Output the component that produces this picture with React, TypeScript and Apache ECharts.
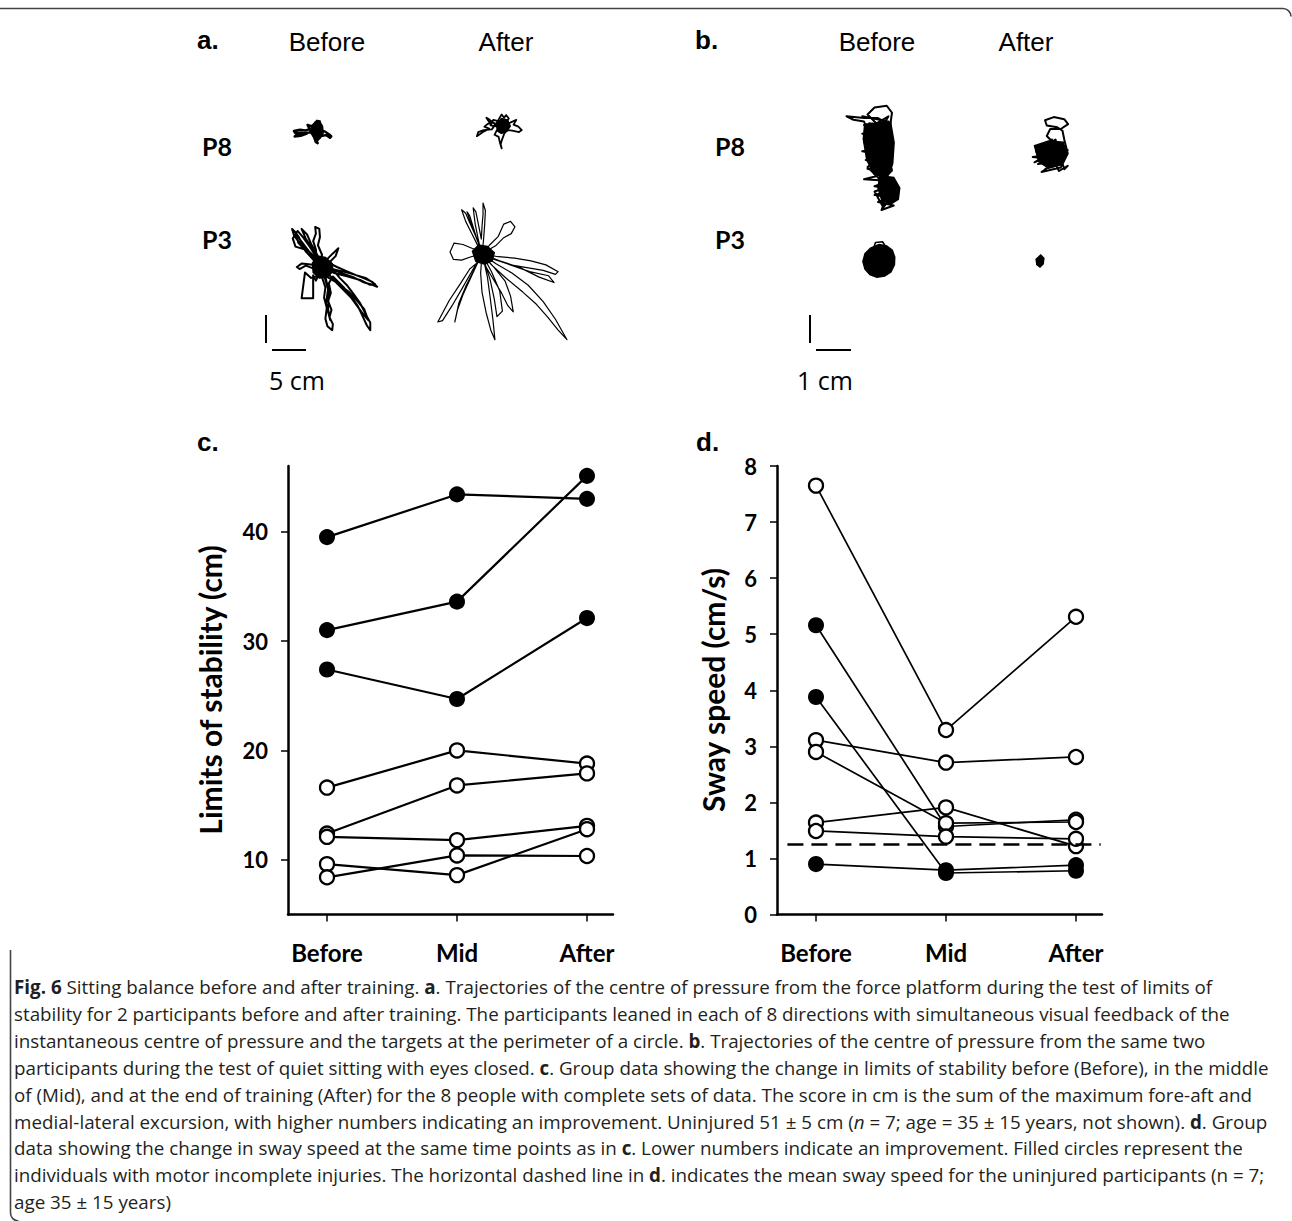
import React, { useEffect, useRef } from "react";
import * as echarts from "echarts";

// ---------- data ----------
const timePoints = ["Before", "Mid", "After"];
const timeIndex = [0, 1, 2];

// Panel c: limits of stability (cm), one row per participant
const losValues = [
  [39.5, 43.4, 43.0],
  [31.0, 33.6, 45.1],
  [27.4, 24.7, 32.1],
  [16.6, 20.0, 18.8],
  [12.4, 16.8, 17.9],
  [12.1, 11.8, 13.1],
  [9.6, 8.6, 12.8],
  [8.4, 10.4, 10.35],
];
const losFilled = [
  [true, true, true],
  [true, true, true],
  [true, true, true],
  [false, false, false],
  [false, false, false],
  [false, false, false],
  [false, false, false],
  [false, false, false],
];
const losTicks = [10, 20, 30, 40];

// Panel d: sway speed (cm/s)
const swayValues = [
  [5.16, 1.57, 1.69],
  [3.88, 0.74, 0.78],
  [0.9, 0.79, 0.88],
  [7.65, 3.29, 5.31],
  [3.11, 2.71, 2.81],
  [2.9, 1.63, 1.65],
  [1.64, 1.91, 1.22],
  [1.49, 1.39, 1.35],
];
const swayFilled = [
  [true, false, false],
  [true, true, true],
  [true, true, true],
  [false, false, false],
  [false, false, false],
  [false, false, false],
  [false, false, false],
  [false, false, false],
];
const swayTicks = [0, 1, 2, 3, 4, 5, 6, 7, 8];
const uninjuredSway = 1.26;

// Centre-of-pressure trajectories (cm, relative to each trace's centre, y up)
const losP8Before = [
  [0, 0], [-0.6, 0.3], [-1.4, 0.1], [-2.2, 0.2], [-3.1, 0.0], [-2.9, -0.3], [-2.0, -0.2], [-1.2, -0.4], [-2.1, -0.7], [-3.0, -0.8], [-2.6, -0.5], [-1.5, -0.3], [-0.6, -0.2],
  [-0.9, 0.5], [-1.1, 0.9], [-0.5, 0.7], [-0.1, 1.0], [0.3, 1.5], [0.7, 1.4], [0.5, 0.9], [0.9, 0.6], [0.2, 0.2],
  [0.9, 0.1], [1.5, -0.1], [2.1, -0.5], [2.4, -0.8], [2.2, -1.0], [1.6, -0.6], [1.1, -0.7], [0.6, -0.4],
  [0.5, -0.9], [0.2, -1.3], [0.4, -1.8], [0.1, -1.6], [-0.1, -1.0], [-0.3, -0.5], [0.3, -0.3], [0.6, 0.3], [-0.4, 0.4], [0.1, -0.2],
  [0.7, 0.9], [0.2, 1.2], [-0.3, 0.6], [0.4, -0.6], [-0.2, -0.2], [0, 0],
];
const losP8BeforeCore = [[-0.5, 0.6], [0.0, 1.3], [0.7, 1.4], [1.1, 0.7], [1.2, -0.3], [0.8, -1.0], [0.3, -1.5], [-0.2, -0.9], [-0.6, -0.3]];
const losP8After = [
  [0, 0], [-0.8, 0.6], [-1.5, 1.2], [-2.0, 1.5], [-1.6, 0.9], [-0.9, 0.8], [-1.8, 0.6], [-2.3, 0.2], [-1.6, -0.1], [-2.5, -0.6], [-3.4, -1.2], [-3.2, -0.6], [-2.4, -0.3], [-1.2, -0.2],
  [-0.4, 0.9], [0.0, 1.6], [0.25, 2.0], [0.6, 1.5], [0.9, 1.9], [1.3, 1.4], [0.7, 0.6],
  [1.5, 0.8], [2.4, 1.2], [2.0, 0.5], [2.7, 0.2], [3.2, -0.3], [2.8, -0.6], [1.8, -0.4], [1.0, -0.3],
  [0.6, -0.9], [0.3, -1.7], [0.1, -2.4], [0.25, -3.0], [0.0, -2.2], [-0.2, -1.3], [-0.8, -1.0], [-0.5, -0.4], [0.4, 0.3], [-0.3, 0.2],
  [-1.4, 0.4], [-1.0, 1.2], [0.2, 0.9], [1.4, 0.2], [0.6, -0.5], [0, 0],
];
const losP8AfterCore = [[-0.5, 0.5], [0.2, 1.4], [1.1, 1.2], [1.5, 0.3], [1.0, -0.5], [0.2, -0.8], [-0.4, -0.4]];
const losP3Before = [
  [0, 0], [-1.2, 1.0], [-2.3, 2.2], [-3.2, 3.4], [-4.1, 4.6], [-4.4, 5.6], [-3.8, 5.0], [-3.5, 3.6], [-2.6, 2.6], [-3.9, 3.0], [-4.3, 4.2], [-3.6, 5.3], [-2.8, 4.4], [-1.8, 3.0], [-0.8, 1.4],
  [-0.9, 2.6], [-1.3, 3.8], [-0.9, 4.9], [-1.0, 5.9], [-0.4, 5.6], [-0.3, 4.4], [-0.6, 3.2], [0.0, 1.8], [-0.2, 0.6],
  [0.8, 1.2], [1.6, 2.0], [2.4, 2.75], [2.0, 1.6], [1.0, 0.6],
  [2.2, 0.0], [3.6, -0.6], [5.0, -1.2], [6.3, -1.7], [7.4, -2.2], [8.1, -2.9], [7.3, -2.6], [6.0, -2.2], [4.6, -1.5], [3.1, -1.0], [1.6, -0.4],
  [2.6, -1.6], [3.6, -2.6], [4.6, -3.9], [5.6, -5.3], [6.4, -6.9], [7.1, -8.2], [7.1, -9.3], [6.6, -8.6], [6.0, -7.3], [5.3, -5.8], [4.4, -4.5], [3.2, -3.0], [1.6, -1.4],
  [1.0, -2.4], [1.3, -3.8], [0.9, -5.0], [1.4, -6.3], [1.1, -7.4], [1.6, -8.4], [1.5, -9.3], [0.8, -8.7], [0.5, -7.6], [0.7, -6.0], [0.3, -4.5], [0.5, -3.0], [0.0, -1.5],
  [-0.8, -1.4], [-1.6, -1.6], [-2.5, -0.8], [-3.0, -4.6], [-1.3, -4.6], [-1.3, -1.2], [-0.9, -2.0], [-0.3, -0.8],
  [-1.3, -0.2], [-2.4, 0.2], [-3.3, -0.3], [-3.7, 0.0], [-3.0, 0.5], [-2.0, 0.4], [-1.0, 0.3], [0, 0],
  [-0.5, 0.8], [-1.5, 1.9], [-2.8, 3.0], [-3.4, 4.4], [-4.0, 5.2], [-3.2, 4.0], [-2.0, 2.4], [-0.6, 0.4],
  [1.8, -0.9], [3.8, -1.4], [5.6, -1.9], [7.0, -2.6], [7.8, -2.5], [6.4, -1.6], [4.0, -0.9], [1.2, -0.2], [0, 0],
  [-0.7, 1.8], [-1.6, 3.4], [-2.2, 4.8], [-3.0, 5.6], [-2.4, 4.2], [-1.2, 2.4], [0.4, -1.0], [0.9, -3.2], [0.6, -5.4], [1.2, -7.8], [0.9, -6.2], [1.0, -3.6], [0.3, -1.2],
  [2.0, -2.2], [3.9, -3.6], [5.2, -5.0], [6.2, -6.2], [6.8, -7.8], [5.8, -6.6], [4.2, -4.4], [2.2, -2.4], [0, 0],
];
const losP3BeforeCore = [[-1.4, 0.6], [-0.6, 1.6], [0.5, 1.4], [1.5, 0.5], [1.6, -0.6], [0.8, -1.5], [-0.4, -1.6], [-1.3, -0.8]];
const losP3After = [
  [0, 0],
  [-0.8, 1.6], [-1.6, 3.2], [-2.4, 4.8], [-3.0, 6.5], [-2.4, 6.0], [-1.8, 4.6], [-1.0, 2.8], [-0.3, 1.0],
  [-0.6, 2.4], [-1.0, 4.4], [-1.3, 6.8], [-0.9, 6.2], [-0.5, 4.2], [-0.1, 2.2],
  [0.0, 4.0], [0.15, 5.8], [0.15, 7.5], [0.5, 6.4], [0.4, 4.4], [0.2, 1.8], [0, 0],
  [1.2, 1.4], [2.4, 2.6], [3.2, 4.4], [4.2, 4.8], [4.85, 4.0], [4.3, 3.0], [3.2, 2.4], [2.0, 1.2], [0.6, 0.4],
  [-1.4, 0.8], [-2.8, 1.4], [-4.1, 1.6], [-4.7, 0.3], [-4.2, -0.8], [-3.0, -0.9], [-1.6, -0.4], [0, 0],
  [2.4, -0.4], [4.8, -0.6], [7.2, -1.0], [9.4, -1.6], [11.2, -2.6], [10.8, -3.0], [9.0, -2.4], [6.6, -2.0], [4.2, -1.6], [1.8, -0.8], [0, 0],
  [2.0, -1.4], [4.4, -2.8], [6.8, -4.6], [9.0, -7.0], [10.8, -9.6], [12.5, -12.6], [11.2, -11.2], [9.6, -9.2], [8.0, -7.4], [6.0, -5.6], [3.6, -3.6], [1.4, -1.6], [0, 0],
  [1.8, -2.0], [3.4, -4.0], [4.2, -6.2], [4.6, -8.5], [3.8, -7.6], [2.8, -5.6], [1.6, -3.6], [0.4, -1.6],
  [0.8, -3.4], [1.2, -6.4], [1.6, -9.6], [1.9, -12.6], [1.3, -11.2], [0.6, -8.6], [0.0, -5.6], [-0.2, -2.8], [0, 0],
  [-1.2, -2.4], [-2.4, -4.8], [-3.4, -7.2], [-4.0, -10.0], [-3.6, -8.2], [-2.8, -6.0], [-1.6, -3.4], [-0.6, -1.2],
  [-1.8, -2.2], [-3.2, -4.4], [-4.8, -6.8], [-6.5, -10.0], [-5.8, -9.8], [-4.4, -7.6], [-3.0, -5.2], [-1.4, -2.4], [0, 0],
  [1.0, 0.6], [-0.6, 0.9], [0.8, -0.7], [-0.9, -0.4], [0.4, 0.3], [0, 0],
  [2.6, -1.0], [5.6, -2.0], [8.4, -3.4], [10.6, -4.2], [9.8, -3.2], [7.0, -2.6], [3.6, -1.4], [0, 0],
  [1.4, -2.6], [2.6, -5.4], [3.0, -8.4], [2.2, -9.2], [1.8, -6.6], [1.2, -3.8], [0, 0],
  [-1.0, 3.0], [-1.8, 5.6], [-2.2, 6.2], [-1.6, 4.4], [-0.4, 1.4], [0, 0],
];
const losP3AfterCore = [[-1.4, 0.4], [-0.5, 1.3], [0.8, 1.1], [1.8, 0.2], [1.5, -1.0], [0.4, -1.5], [-0.9, -1.1]];
const swayP8Before = [
  [-0.45, 1.25], [0.3, 1.1], [-0.4, 1.0], [0.35, 0.85], [-0.45, 0.75], [0.4, 0.6], [-0.4, 0.5], [0.3, 0.35], [-0.45, 0.25], [0.35, 0.1], [-0.35, 0.0], [0.4, -0.15], [-0.3, -0.25], [0.2, -0.4], [-0.4, -0.55], [0.35, -0.6], [-0.1, -0.75], [0.5, -0.85], [-0.1, -1.0], [0.55, -1.05], [0.0, -1.2], [0.45, -1.3], [0.1, -1.43], [0.3, -0.9],
  [0.0, -0.5], [-0.2, 0.3], [0.1, 0.9], [-0.3, 1.3], [-0.1, 1.5], [0.25, 1.55], [0.4, 1.35], [0.35, 1.0], [0.0, 1.2], [-0.4, 1.2], [-0.9, 1.25], [-0.7, 1.15], [-0.4, 1.1],
  [-0.2, 0.6], [0.2, 0.2], [-0.3, -0.2], [0.1, -0.6], [0.4, -0.3], [0.2, 0.5], [-0.3, 0.9], [0.3, 1.25], [-0.2, 0.4], [0.4, 0.7], [0.0, -0.1], [0.45, -1.0], [0.15, -1.35],
  [-0.1, -0.9], [0.5, -0.7], [0.05, -0.3], [-0.35, 0.6], [0.3, 0.95], [-0.25, 1.05],
];
const swayP8BeforeCoreUpper = [[-0.38, 1.02], [0.36, 1.08], [0.46, 0.5], [0.42, -0.1], [0.28, -0.45], [-0.1, -0.42], [-0.32, 0.0], [-0.42, 0.6]];
const swayP8BeforeCoreLower = [[0.05, -0.45], [0.45, -0.5], [0.62, -0.8], [0.58, -1.12], [0.35, -1.27], [0.1, -1.12], [0.0, -0.8]];
const swayP8After = [
  [0.0, 0.3], [-0.35, 0.0], [0.2, -0.1], [-0.55, -0.2], [0.3, -0.3], [-0.4, -0.4], [0.4, -0.2], [-0.2, -0.55], [0.1, -0.35], [-0.3, -0.63], [0.25, -0.5], [0.45, -0.1], [0.35, 0.3], [0.3, 0.55], [0.15, 0.65], [-0.15, 0.7], [-0.2, 0.85], [0.05, 0.94], [0.35, 0.88], [0.46, 0.74], [0.25, 0.6], [-0.05, 0.6], [-0.15, 0.4], [0.1, 0.15], [-0.45, -0.05], [0.15, -0.45], [0.45, 0.0], [0.05, -0.2], [-0.25, 0.1], [0.1, 0.3], [0.35, -0.55], [0.45, -0.45], [0.2, -0.6], [-0.05, -0.15],
  [-0.5, -0.35], [0.0, -0.05], [0.3, 0.1], [-0.2, -0.3],
];
const swayP8AfterCore = [[-0.5, 0.12], [-0.1, 0.26], [0.32, 0.22], [0.42, -0.1], [0.28, -0.42], [-0.1, -0.52], [-0.38, -0.33]];
const swayP3BeforeOutline = [
  [0.0, 0.44], [0.22, 0.4], [0.38, 0.28], [0.45, 0.08], [0.44, -0.14], [0.34, -0.34], [0.16, -0.46], [-0.06, -0.49], [-0.26, -0.42], [-0.4, -0.26], [-0.46, -0.04], [-0.4, 0.18], [-0.24, 0.34],
];
const swayP3BeforeLoop = [[-0.14, 0.38], [-0.1, 0.5], [0.1, 0.52], [0.18, 0.4]];
const swayP3AfterOutline = [[0.02, 0.17], [0.11, 0.08], [0.09, -0.08], [0.0, -0.17], [-0.09, -0.1], [-0.11, 0.05]];

const captionLines = [
  "{b|Fig. 6} Sitting balance before and after training. {b|a}. Trajectories of the centre of pressure from the force platform during the test of limits of",
  "stability for 2 participants before and after training. The participants leaned in each of 8 directions with simultaneous visual feedback of the",
  "instantaneous centre of pressure and the targets at the perimeter of a circle. {b|b}. Trajectories of the centre of pressure from the same two",
  "participants during the test of quiet sitting with eyes closed. {b|c}. Group data showing the change in limits of stability before (Before), in the middle",
  "of (Mid), and at the end of training (After) for the 8 people with complete sets of data. The score in cm is the sum of the maximum fore-aft and",
  "medial-lateral excursion, with higher numbers indicating an improvement. Uninjured 51 ± 5 cm ({i|n} = 7; age = 35 ± 15 years, not shown). {b|d}. Group",
  "data showing the change in sway speed at the same time points as in {b|c}. Lower numbers indicate an improvement. Filled circles represent the",
  "individuals with motor incomplete injuries. The horizontal dashed line in {b|d}. indicates the mean sway speed for the uninjured participants (n = 7;",
  "age 35 ± 15 years)",
];

// ---------- helpers ----------
function textWidth(text: string, font: string): number {
  const c = document.createElement("canvas");
  const ctx = c.getContext("2d");
  if (!ctx) return text.length * 9;
  ctx.font = font;
  return ctx.measureText(text).width;
}
const plain = (s: string) => s.replace(/\{[a-z]\|([^}]*)\}/g, "$1");

function buildOption() {
  const capFamily = "Open Sans";
  const capBase = 19;
  const capSize = Math.min(21, Math.max(15, (capBase * 1196) / textWidth(plain(captionLines[0]), `${capBase}px "${capFamily}"`)));

  const titleFont = "Lato";
  const t1 = (26 * 293) / textWidth("Limits of stability (cm)", `bold 26px ${titleFont}`);
  const t2 = (26 * 246) / textWidth("Sway speed (cm/s)", `bold 26px ${titleFont}`);
  const titleSize = Math.min(30, Math.max(20, (t1 + t2) / 2));

  const grids: any[] = [];
  const xAxes: any[] = [];
  const yAxes: any[] = [];
  const series: any[] = [];

  const labelStyle = { color: "#000", fontFamily: "Lato", fontWeight: "bold" };
  const axisLine = { show: true, onZero: false, lineStyle: { color: "#000", width: 2.5 } };

  // group-data panels
  const panels = [
    { left: 288, values: losValues, filled: losFilled, ymin: 5, ymax: 46, ticks: losTicks, lw: 2.2 },
    { left: 777, values: swayValues, filled: swayFilled, ymin: 0, ymax: 8, ticks: swayTicks, lw: 1.7 },
  ];
  panels.forEach((p, gi) => {
    grids.push({ left: p.left, top: 466, width: 325, height: 448.5 });
    xAxes.push({
      gridIndex: gi, type: "value", min: -0.3, max: 2.2,
      axisLine,
      axisTick: { show: true, customValues: timeIndex, length: 7, lineStyle: { color: "#000", width: 1.5 } },
      axisLabel: { ...labelStyle, customValues: timeIndex, fontSize: 24, margin: 26, formatter: (v: number) => timePoints[Math.round(v)] },
      splitLine: { show: false },
    });
    yAxes.push({
      gridIndex: gi, type: "value", min: p.ymin, max: p.ymax,
      axisLine,
      axisTick: { show: true, customValues: p.ticks, length: 7, lineStyle: { color: "#000", width: 1.5 } },
      axisLabel: { ...labelStyle, customValues: p.ticks, fontSize: 22, margin: 20, rotate: 0 },
      splitLine: { show: false },
    });
    p.values.forEach((row) => {
      series.push({
        type: "line", xAxisIndex: gi, yAxisIndex: gi, z: 2, silent: true,
        data: row.map((v, j) => [timeIndex[j], v]),
        symbol: "none", showSymbol: false,
        lineStyle: { color: "#000", width: p.lw },
      });
    });
    const filledPts: any[] = [];
    const openPts: any[] = [];
    p.values.forEach((row, i) => row.forEach((v, j) => (p.filled[i][j] ? filledPts : openPts).push([timeIndex[j], v])));
    series.push({
      type: "scatter", xAxisIndex: gi, yAxisIndex: gi, z: 3, silent: true,
      data: filledPts, symbol: "circle", symbolSize: 14,
      itemStyle: { color: "#000", borderColor: "#000", borderWidth: 2, opacity: 1 },
    });
    series.push({
      type: "scatter", xAxisIndex: gi, yAxisIndex: gi, z: 4, silent: true,
      data: openPts, symbol: "circle", symbolSize: 14,
      itemStyle: { color: "#fff", borderColor: "#000", borderWidth: 2.3, opacity: 1 },
    });
  });
  // dashed uninjured mean line in d
  series.push({
    type: "line", xAxisIndex: 1, yAxisIndex: 1, z: 2, silent: true, data: [],
    markLine: {
      silent: true, symbol: "none", label: { show: false },
      lineStyle: { color: "#000", width: 2.5, type: [16, 8] },
      data: [[{ coord: [-0.22, uninjuredSway] }, { coord: [2.19, uninjuredSway] }]],
    },
  });

  // trajectories
  const traj = [
    { pts: losP8Before, cx: 315, cy: 131, scale: 6.8, w: 2.4, cores: [losP8BeforeCore] },
    { pts: losP8After, cx: 500, cy: 128, scale: 6.8, w: 1.8, cores: [losP8AfterCore] },
    { pts: losP3Before, cx: 322, cy: 267, scale: 6.8, w: 2.0, cores: [losP3BeforeCore] },
    { pts: losP3After, cx: 482, cy: 254, scale: 6.8, w: 1.2, cores: [losP3AfterCore] },
    { pts: swayP8Before, cx: 878, cy: 160, scale: 35, w: 2.0, cores: [swayP8BeforeCoreUpper, swayP8BeforeCoreLower] },
    { pts: swayP8After, cx: 1052, cy: 150, scale: 35, w: 2.0, cores: [swayP8AfterCore] },
    { pts: swayP3BeforeLoop, cx: 879, cy: 260, scale: 35, w: 1.6, cores: [swayP3BeforeOutline] },
    { pts: [] as number[][], cx: 1040, cy: 261, scale: 35, w: 1, cores: [swayP3AfterOutline] },
  ];
  const half = 110;
  traj.forEach((t: any) => {
    const gi = grids.length;
    grids.push({ left: t.cx - half, top: t.cy - half, width: 2 * half, height: 2 * half });
    xAxes.push({ gridIndex: gi, type: "value", show: false, min: -half / t.scale, max: half / t.scale });
    yAxes.push({ gridIndex: gi, type: "value", show: false, min: -half / t.scale, max: half / t.scale });
    if (t.pts.length) {
      series.push({
        type: "line", xAxisIndex: gi, yAxisIndex: gi, silent: true, data: t.pts,
        symbol: "none", showSymbol: false, clip: false,
        lineStyle: { color: "#000", width: t.w, join: "round", cap: "round" },
      });
    }
    (t.cores || []).forEach((outline: number[][]) => {
      series.push({
        type: "custom", coordinateSystem: "cartesian2d", xAxisIndex: gi, yAxisIndex: gi, silent: true,
        data: [[0, 0]],
        renderItem: (_params: any, api: any) => ({
          type: "polygon",
          shape: { points: outline.map((q: number[]) => api.coord(q)) },
          style: { fill: "#000", stroke: "#000", lineWidth: 1.5 },
        }),
      });
    });
  });

  // graphics (text & frame)
  const g: any[] = [];
  const txt = (x: number, y: number, text: string, o: any = {}) =>
    g.push({
      type: "text", x, y, silent: true, rotation: o.rotation || 0,
      style: {
        text, fill: o.fill || "#000", fontSize: o.size || 24, fontFamily: o.family || "Liberation Sans",
        fontWeight: o.weight || "normal", align: o.align || "left", verticalAlign: "middle", rich: o.rich,
      },
    });
  txt(197, 40, "a.", { weight: "bold", size: 26 });
  txt(327, 42, "Before", { align: "center", size: 26 });
  txt(506, 42, "After", { align: "center", size: 26 });
  txt(695, 40, "b.", { weight: "bold", size: 26 });
  txt(877, 42, "Before", { align: "center", size: 26 });
  txt(1026, 42, "After", { align: "center", size: 26 });
  [202, 715].forEach((x) => {
    txt(x, 146, "P8", { family: "Lato", weight: "bold", size: 25 });
    txt(x, 239, "P3", { family: "Lato", weight: "bold", size: 25 });
  });
  txt(269, 380, "5 cm", { family: "Open Sans", size: 25 });
  txt(797, 380, "1 cm", { family: "Open Sans", size: 25 });
  txt(197, 442, "c.", { weight: "bold", size: 26 });
  txt(696, 442, "d.", { weight: "bold", size: 26 });
  txt(210, 690, "Limits of stability (cm)", { family: titleFont, weight: "bold", size: titleSize, align: "center", rotation: Math.PI / 2 });
  txt(713, 690, "Sway speed (cm/s)", { family: titleFont, weight: "bold", size: titleSize, align: "center", rotation: Math.PI / 2 });

  // scale bars
  const bar = (x1: number, y1: number, x2: number, y2: number) =>
    g.push({ type: "line", silent: true, shape: { x1, y1, x2, y2 }, style: { stroke: "#000", lineWidth: 2 } });
  bar(266, 315, 266, 343); bar(272, 350, 306, 350);
  bar(810, 315, 810, 343); bar(816, 350, 851, 350);

  // caption
  const rich = {
    b: { fontWeight: "bold", fontSize: capSize, fontFamily: capFamily, fill: "#231f20" },
    i: { fontStyle: "italic", fontSize: capSize, fontFamily: capFamily, fill: "#231f20" },
  };
  captionLines.forEach((line, i) => txt(14, 987 + i * 26.9, line, { family: capFamily, size: capSize, rich, fill: "#231f20" }));

  // frame
  const frame = { stroke: "#444", lineWidth: 1.6, fill: "none" };
  g.push({ type: "line", silent: true, shape: { x1: 0, y1: 8.5, x2: 1283, y2: 8.5 }, style: frame });
  g.push({ type: "arc", silent: true, shape: { cx: 1283, cy: 16.5, r: 8, startAngle: -Math.PI / 2, endAngle: 0, clockwise: true }, style: frame });
  g.push({ type: "line", silent: true, shape: { x1: 10.5, y1: 950, x2: 10.5, y2: 1213 }, style: frame });
  g.push({ type: "arc", silent: true, shape: { cx: 18.5, cy: 1213, r: 8, startAngle: Math.PI / 2, endAngle: Math.PI, clockwise: true }, style: frame });

  return {
    animation: false,
    backgroundColor: "#fff",
    textStyle: { fontFamily: "Lato" },
    grid: grids,
    xAxis: xAxes,
    yAxis: yAxes,
    series,
    graphic: g,
  };
}

export default function App() {
  const ref = useRef<HTMLDivElement>(null);
  useEffect(() => {
    if (!ref.current) return;
    const chart = echarts.init(ref.current, undefined, { renderer: "svg" });
    chart.setOption(buildOption() as any);
    return () => chart.dispose();
  }, []);
  return (
    <div
      ref={ref}
      style={{ position: "absolute", left: 0, top: 0, width: 1292, height: 1221, background: "#fff" }}
    />
  );
}
